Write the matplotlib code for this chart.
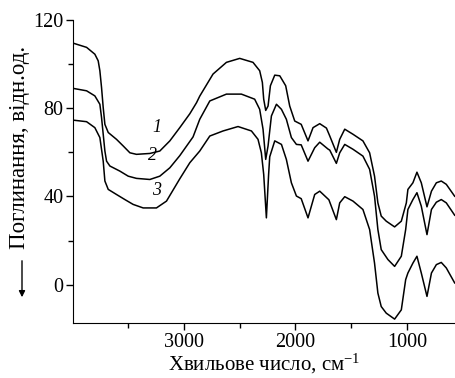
import matplotlib
matplotlib.use('Agg')
import matplotlib.pyplot as plt
from matplotlib.ticker import MultipleLocator

plt.rcParams['font.family'] = ['Liberation Serif', 'DejaVu Serif']
plt.rcParams['mathtext.default'] = 'regular'

# curve 1 (top)
wn1 = [3991, 3871, 3797, 3767, 3752, 3737, 3722, 3707, 3677, 3603, 3543, 3483, 3424, 3304,
       3215, 3125, 3036, 2946, 2886, 2857, 2738, 2618, 2499, 2380, 2320, 2296, 2284, 2266,
       2245, 2224, 2185, 2140, 2087, 2051, 2006, 1948, 1887, 1842, 1782, 1722, 1692, 1633,
       1603, 1558, 1484, 1395, 1335, 1291, 1261, 1231, 1186, 1111, 1051, 1006, 992, 947,
       911, 872, 821, 781, 737, 693, 648, 573]
a1 = [109.5, 107.6, 104.5, 101.5, 97.0, 89.4, 80.3, 72.7, 69.0, 65.9, 62.9, 59.8, 59.1, 59.5,
      60.6, 65.2, 71.2, 77.5, 82.5, 85.5, 95.5, 100.8, 102.6, 100.8, 97.0, 91.7, 84.1, 79.0,
      81.0, 90.2, 95.0, 94.7, 90.2, 81.0, 74.2, 72.7, 65.2, 71.2, 73.0, 71.0, 67.4, 60.0,
      65.9, 70.5, 68.2, 65.2, 59.8, 49.2, 37.1, 31.1, 28.8, 26.2, 28.8, 37.1, 43.2, 46.2,
      51.0, 46.2, 35.3, 42.4, 46.2, 47.0, 45.5, 40.1]

# curve 2 (middle)
wn2 = [3991, 3871, 3797, 3752, 3737, 3722, 3707, 3692, 3662, 3573, 3498, 3424, 3304, 3215,
       3125, 3036, 2917, 2857, 2767, 2618, 2484, 2365, 2320, 2290, 2266, 2245, 2215, 2170,
       2125, 2081, 2036, 1991, 1948, 1887, 1827, 1782, 1708, 1692, 1633, 1603, 1558, 1484,
       1395, 1335, 1291, 1261, 1231, 1171, 1111, 1051, 1012, 992, 947, 911, 872, 821,
       781, 737, 693, 648, 573]
a2 = [89.0, 87.9, 85.6, 81.8, 75.8, 68.2, 60.6, 56.0, 53.8, 51.5, 49.2, 48.2, 47.7, 49.2,
      53.0, 58.5, 67.0, 75.0, 83.3, 86.4, 86.4, 84.1, 79.5, 70.5, 56.8, 62.9, 76.5, 81.8,
      79.5, 75.0, 66.7, 63.6, 63.4, 56.0, 62.1, 64.6, 61.5, 61.0, 55.0, 59.8, 63.6, 61.4,
      58.3, 52.3, 40.1, 25.0, 15.9, 11.4, 8.3, 12.9, 25.0, 34.1, 38.6, 41.7, 35.6, 22.7,
      34.1, 37.4, 38.6, 37.1, 31.5]

# curve 3 (bottom)
wn3 = [3991, 3871, 3797, 3752, 3722, 3707, 3677, 3603, 3528, 3454, 3364, 3245, 3155, 3036,
       2946, 2857, 2767, 2648, 2514, 2394, 2335, 2305, 2284, 2260, 2240, 2230, 2185, 2125,
       2081, 2036, 1991, 1948, 1887, 1827, 1782, 1700, 1633, 1603, 1558, 1484, 1395, 1335,
       1291, 1261, 1231, 1186, 1111, 1051, 1012, 992, 947, 911, 872, 821, 781, 737,
       693, 648, 573]
a3 = [74.6, 73.9, 71.2, 66.7, 56.0, 47.0, 43.2, 40.9, 38.6, 36.4, 34.8, 34.8, 37.9, 48.0,
      55.3, 60.6, 67.4, 69.7, 71.7, 69.7, 65.9, 59.8, 50.0, 30.3, 50.0, 58.0, 65.2, 63.6,
      56.8, 46.2, 40.2, 39.0, 30.3, 40.9, 42.4, 38.5, 29.5, 37.1, 39.9, 37.9, 34.1, 25.0,
      9.8, -3.8, -9.9, -12.9, -15.6, -11.4, 2.3, 5.3, 9.8, 12.9, 5.3, -5.3, 5.3, 9.1,
      10.1, 7.6, 0.8]

labels = ['1', '2', '3']
label_x = [3242, 3277, 3242]
label_y = [71.4, 58.6, 42.7]

fig = plt.figure(figsize=(4.55, 3.78), dpi=100)
ax = fig.add_axes([73.3 / 455, 1 - 323.3 / 378, 1 - 73.3 / 455, (323.3 - 20) / 378])

for wn, a in [(wn1, a1), (wn2, a2), (wn3, a3)]:
    ax.plot(wn, a, color='black', lw=1.1)

for t, x, y in zip(labels, label_x, label_y):
    ax.text(x, y, t, fontsize=13, style='italic', ha='center', va='center')

ax.set_xlim(3990, 570)
ax.set_ylim(-17.5, 120)
ax.xaxis.set_major_locator(MultipleLocator(1000))
ax.xaxis.set_minor_locator(MultipleLocator(500))
ax.yaxis.set_major_locator(MultipleLocator(40))
ax.yaxis.set_minor_locator(MultipleLocator(20))
ax.tick_params(which='major', direction='out', length=5, width=1, labelsize=14.5, pad=2)
ax.tick_params(which='minor', direction='out', length=3.5, width=1)
ax.spines['top'].set_visible(False)
ax.spines['right'].set_visible(False)

ax.set_xlabel('Хвильове число, см$^{-1}$', fontsize=15, labelpad=0)

fig.text(20 / 455, 1 - 147 / 378, 'Поглинання, відн.од.', rotation=90,
         fontsize=16.5, ha='center', va='center')
ax.annotate('', xy=(22 / 455, 1 - 300 / 378), xytext=(22 / 455, 1 - 258 / 378),
            xycoords='figure fraction', textcoords='figure fraction',
            arrowprops=dict(arrowstyle='-|>', color='black', lw=1, mutation_scale=9))

fig.savefig('out.png', dpi=100)
